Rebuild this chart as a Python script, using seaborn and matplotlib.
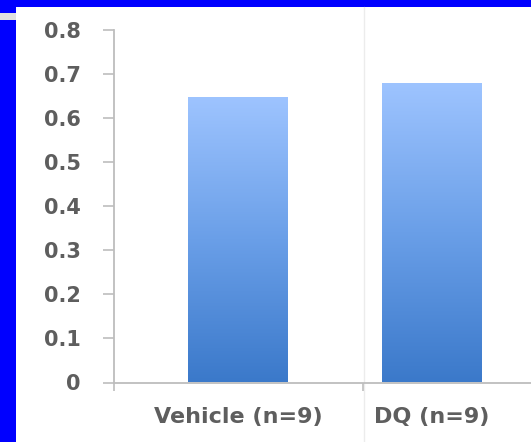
import matplotlib
matplotlib.use("Agg")
import matplotlib.pyplot as plt
import seaborn as sns
import numpy as np
import pandas as pd
from matplotlib.colors import LinearSegmentedColormap
from matplotlib.patches import Rectangle
from matplotlib.lines import Line2D

# Data
groups = ["Vehicle (n=9)", "DQ (n=9)"]
values = [0.648, 0.679]
y_ticks = [0.0, 0.1, 0.2, 0.3, 0.4, 0.5, 0.6, 0.7, 0.8]
y_tick_labels = ["0", "0.1", "0.2", "0.3", "0.4", "0.5", "0.6", "0.7", "0.8"]

df = pd.DataFrame({"group": groups, "value": values})

sns.set_style("white")
plt.rcParams["font.family"] = ["DejaVu Sans"]

W, H = 531, 442
fig = plt.figure(figsize=(W / 100, H / 100), dpi=100)
fig.patch.set_facecolor("white")

# Slide frame: blue band on top and on the left
blue = "#0000FF"
fig.add_artist(Rectangle((0, 1 - 7 / H), 1, 7 / H, transform=fig.transFigure,
                         facecolor=blue, edgecolor="none", zorder=0))
fig.add_artist(Rectangle((0, 0), 16 / W, 1, transform=fig.transFigure,
                         facecolor=blue, edgecolor="none", zorder=0))
fig.add_artist(Rectangle((0, 1 - 20 / H), 16 / W, 7 / H, transform=fig.transFigure,
                         facecolor="#E0E0E0", edgecolor="none", zorder=1))
# faint vertical divider
fig.add_artist(Line2D([364 / W, 364 / W], [0, 1 - 7 / H], transform=fig.transFigure,
                      color="#ECECEC", lw=1.0, zorder=0))

ax = fig.add_axes([114 / W, 59.5 / H, 1 - 114 / W, (382.5 - 30) / H])
ax.set_facecolor("none")

sns.barplot(data=df, x="group", y="value", ax=ax, width=0.515,
            color="#5f94e0", saturation=1, errorbar=None)

# vertical gradient fill on each bar
cmap = LinearSegmentedColormap.from_list("bar", ["#3B79CA", "#6A9FE8", "#9EC4FF"])
grad = np.linspace(0, 1, 256).reshape(-1, 1)
for bar in ax.patches:
    x0, y0 = bar.get_x(), bar.get_y()
    w, h = bar.get_width(), bar.get_height()
    im = ax.imshow(grad, extent=[x0, x0 + w, y0, y0 + h], origin="lower",
                   aspect="auto", cmap=cmap, zorder=bar.get_zorder(),
                   interpolation="bilinear")
    im.set_clip_path(bar)
    bar.set_facecolor("none")
    bar.set_edgecolor("none")

ax.set_xlim(-0.639, 1.51)
ax.set_ylim(0, 0.8)
ax.set_aspect("auto")

ax.set_yticks(y_ticks)
ax.set_yticklabels(y_tick_labels)
ax.set_xlabel("")
ax.set_ylabel("")

axis_gray = "#BDBDBD"
text_gray = "#5E5E5E"
for side in ["top", "right"]:
    ax.spines[side].set_visible(False)
for side in ["left", "bottom"]:
    ax.spines[side].set_color(axis_gray)
    ax.spines[side].set_linewidth(1.3)

ax.tick_params(axis="y", which="major", direction="out", length=8, width=1.2,
               color=axis_gray, pad=16, labelsize=15, labelcolor=text_gray, left=True)
ax.tick_params(axis="x", which="major", length=0, pad=18, labelsize=16,
               labelcolor=text_gray)
ax.set_xticks([-0.639, 0.644], minor=True)
ax.tick_params(axis="x", which="minor", direction="out", length=6, width=1.2,
               color=axis_gray, bottom=True)

for lbl in ax.get_xticklabels() + ax.get_yticklabels():
    lbl.set_fontweight("bold")

fig.savefig("out.png", dpi=100, facecolor=fig.get_facecolor())
